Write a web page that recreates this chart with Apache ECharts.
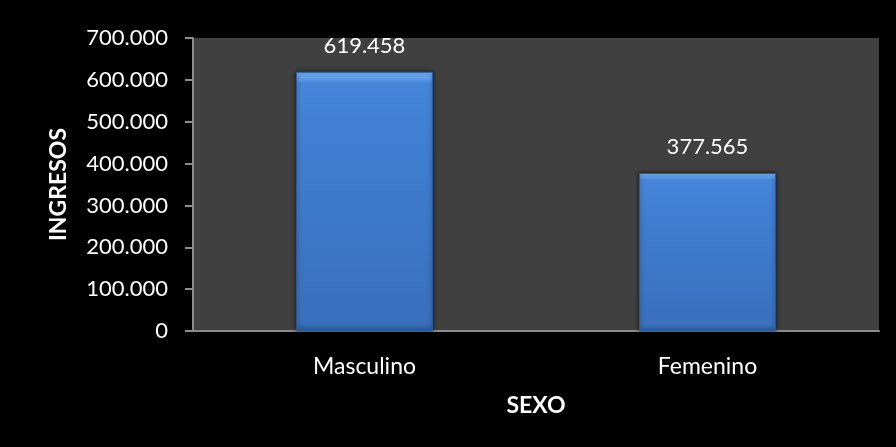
<!DOCTYPE html>
<html>
<head>
<meta charset="utf-8">
<script src="https://cdn.jsdelivr.net/npm/echarts@6/dist/echarts.min.js"></script>
<style>html,body{margin:0;padding:0;background:#000;}#c{width:896px;height:447px;}</style>
</head>
<body>
<div id="c"></div>
<script>
const categories = ['Masculino', 'Femenino'];
const ingresos = [619458, 377565];
const yTicks = [0, 100000, 200000, 300000, 400000, 500000, 600000, 700000];

function fmt(v) {
  return String(Math.round(v)).replace(/\B(?=(\d{3})+(?!\d))/g, '.');
}

const chart = echarts.init(document.getElementById('c'));
chart.setOption({
  backgroundColor: '#000000',
  animation: false,
  textStyle: { fontFamily: 'Lato' },
  grid: { left: 193, right: 17, top: 38, bottom: 116, show: true, backgroundColor: '#404040', borderWidth: 0 },
  xAxis: {
    type: 'category',
    data: categories,
    name: 'SEXO',
    nameLocation: 'middle',
    nameGap: 63,
    nameTextStyle: { color: '#ffffff', fontSize: 23, fontWeight: 'bold', fontFamily: 'Lato' },
    axisLine: { lineStyle: { color: '#8c8c8c', width: 2 } },
    axisTick: { show: false },
    axisLabel: { color: '#ffffff', fontSize: 23, margin: 24, fontFamily: 'Lato' }
  },
  yAxis: {
    type: 'value',
    min: yTicks[0],
    max: yTicks[yTicks.length - 1],
    interval: 100000,
    name: 'INGRESOS',
    nameLocation: 'middle',
    nameRotate: 90,
    nameGap: 123,
    nameTextStyle: { color: '#ffffff', fontSize: 23, fontWeight: 'bold', fontFamily: 'Lato' },
    axisLine: { show: true, lineStyle: { color: '#8c8c8c', width: 2 } },
    axisTick: { show: true, length: 8, lineStyle: { color: '#8c8c8c', width: 2 } },
    splitLine: { show: false },
    axisLabel: { color: '#ffffff', fontSize: 22, margin: 25, fontFamily: 'Lato', formatter: fmt }
  },
  series: [{
    type: 'bar',
    data: ingresos,
    barWidth: '40%',
    itemStyle: {
      borderColor: '#2c5a96',
      borderWidth: 1,
      shadowColor: 'rgba(0,0,0,0.6)',
      shadowBlur: 4,
      color: new echarts.graphic.LinearGradient(0, 0, 0, 1, [
        { offset: 0, color: '#78b4f4' },
        { offset: 0.03, color: '#5a98e6' },
        { offset: 0.045, color: '#4686da' },
        { offset: 0.3, color: '#3f7ed0' },
        { offset: 0.96, color: '#3a70bd' },
        { offset: 1, color: '#3163a8' }
      ])
    },
    label: {
      show: true,
      position: 'top',
      distance: 15,
      color: '#ffffff',
      fontSize: 22,
      fontFamily: 'Lato',
      formatter: p => fmt(p.value)
    }
  }]
});
</script>
</body>
</html>
